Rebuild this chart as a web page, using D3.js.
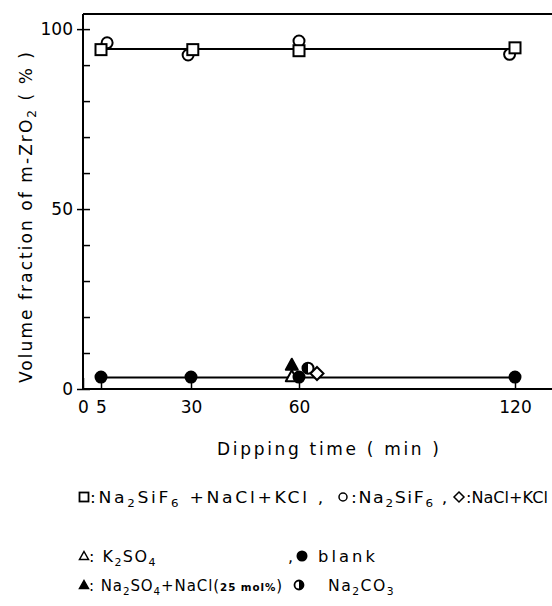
<!DOCTYPE html>
<html>
<head>
<meta charset="utf-8">
<script src="https://cdn.jsdelivr.net/npm/d3@7"></script>
<style>
  body { margin: 0; background: #fff; }
  text { font-family: "DejaVu Sans", sans-serif; fill: #000; }
</style>
</head>
<body>
<svg width="552" height="606"></svg>
<script>
// volume fraction of m-ZrO2 vs dipping time

const xTicks = [0, 5, 30, 60, 120];
const yMajor = [0, 50, 100];
const yMinor = [10, 20, 30, 40, 60, 70, 80, 90];

// Na2SiF6+NaCl+KCl (open squares)
const sqX = [5, 30.5, 60, 120];
const sqY = [94.3, 94.3, 94, 94.8];
// Na2SiF6 (open circles)
const ciX = [6.7, 29.2, 60, 118.5];
const ciY = [96.2, 92.8, 96.7, 93];
// NaCl+KCl (diamond)
const diX = [65];
const diY = [4.3];
// K2SO4 (open triangle)
const trX = [58];
const trY = [3.4];
// Na2SO4+NaCl 25mol% (filled triangle)
const ftX = [58];
const ftY = [6.6];
// blank (filled circles)
const blX = [5, 30, 60, 120];
const blY = [3.3, 3.3, 3.3, 3.3];
// Na2CO3 (half filled circle)
const hcX = [62.5];
const hcY = [5.8];

// the two fitted level lines
const fitHi = [[5, 94.5], [120, 94.5]];
const fitLo = [[5, 3.2], [120, 3.2]];

let svg = d3.select('svg');

let x = d3.scaleLinear().domain([0, 130]).range([83, 551]);
let y = d3.scaleLinear().domain([0, 104.2]).range([389, 14]);

// frame: top line and bottom axis run to the right edge
svg.append('line')
  .attr('x1', x(0)).attr('x2', 552)
  .attr('y1', y(104.2)).attr('y2', y(104.2))
  .attr('stroke', '#000').attr('stroke-width', 2);

svg.append('line')
  .attr('x1', x(0)).attr('x2', 552)
  .attr('y1', y(0)).attr('y2', y(0))
  .attr('stroke', '#000').attr('stroke-width', 2);

svg.append('line')
  .attr('x1', x(0)).attr('x2', x(0))
  .attr('y1', y(0)).attr('y2', y(104.2))
  .attr('stroke', '#000').attr('stroke-width', 2);

// y axis ticks
let yAxis = svg.append('g')
  .attr('transform', 'translate(' + x(0) + ',0)')
  .call(d3.axisLeft(y).tickValues(yMajor).tickSize(6).tickSizeOuter(0).tickPadding(4)
    .tickFormat(d3.format('d')));
yAxis.select('.domain').remove();
yAxis.selectAll('line').attr('stroke-width', 1.5);
yAxis.selectAll('text').style('font-size', '17px').style('font-family', '"DejaVu Sans", sans-serif');

let yAxisIn = svg.append('g')
  .attr('transform', 'translate(' + x(0) + ',0)')
  .call(d3.axisRight(y).tickValues(yMajor.concat(yMinor)).tickSize(7).tickSizeOuter(0).tickFormat(''));
yAxisIn.select('.domain').remove();
yAxisIn.selectAll('line').attr('stroke-width', 1.5);

// x axis ticks point up into the plot
let xAxis = svg.append('g')
  .attr('transform', 'translate(0,' + y(0) + ')')
  .call(d3.axisBottom(x).tickValues(xTicks).tickSize(-11).tickSizeOuter(0).tickPadding(12)
    .tickFormat(d3.format('d')));
xAxis.select('.domain').remove();
xAxis.selectAll('line').attr('stroke-width', 1.5);
xAxis.selectAll('text').style('font-size', '17px').style('font-family', '"DejaVu Sans", sans-serif')
  .attr('dy', '0.71em');

// axis titles
svg.append('text')
  .attr('x', 217).attr('y', 455)
  .attr('textLength', 222).attr('lengthAdjust', 'spacing')
  .style('font-size', '17px')
  .text('Dipping time ( min )');

let yt = svg.append('text')
  .attr('transform', 'translate(32,383) rotate(-90)')
  .attr('textLength', 331).attr('lengthAdjust', 'spacing')
  .style('font-size', '17px');
yt.append('tspan').text('Volume fraction of m-ZrO');
yt.append('tspan').attr('dy', 4).style('font-size', '12px').text('2');
yt.append('tspan').attr('dy', -4).text(' ( % )');

// fitted lines
let line = d3.line().x(d => x(d[0])).y(d => y(d[1]));
[fitHi, fitLo].forEach(f => {
  svg.append('path').datum(f).attr('d', line)
    .attr('fill', 'none').attr('stroke', '#000').attr('stroke-width', 2);
});

const sw = 2;
const zip = (a, b) => a.map((v, i) => [v, b[i]]);

// markers
function circles(xs, ys, fill) {
  svg.append('g').selectAll('circle').data(zip(xs, ys)).join('circle')
    .attr('cx', d => x(d[0])).attr('cy', d => y(d[1])).attr('r', 5.5)
    .attr('fill', fill).attr('stroke', '#000').attr('stroke-width', sw);
}
function squares(xs, ys) {
  svg.append('g').selectAll('rect').data(zip(xs, ys)).join('rect')
    .attr('x', d => x(d[0]) - 5.5).attr('y', d => y(d[1]) - 5.5)
    .attr('width', 11).attr('height', 11)
    .attr('fill', '#fff').attr('stroke', '#000').attr('stroke-width', sw);
}
function triangles(xs, ys, fill) {
  svg.append('g').selectAll('path').data(zip(xs, ys)).join('path')
    .attr('d', d => {
      let cx = x(d[0]), cy = y(d[1]);
      return 'M' + cx + ',' + (cy - 6.5) + 'L' + (cx + 6) + ',' + (cy + 4.5) + 'L' + (cx - 6) + ',' + (cy + 4.5) + 'Z';
    })
    .attr('fill', fill).attr('stroke', '#000').attr('stroke-width', sw).attr('stroke-linejoin', 'round');
}
function diamonds(xs, ys) {
  svg.append('g').selectAll('path').data(zip(xs, ys)).join('path')
    .attr('d', d => {
      let cx = x(d[0]), cy = y(d[1]);
      return 'M' + cx + ',' + (cy - 6.5) + 'L' + (cx + 6.5) + ',' + cy + 'L' + cx + ',' + (cy + 6.5) + 'L' + (cx - 6.5) + ',' + cy + 'Z';
    })
    .attr('fill', '#fff').attr('stroke', '#000').attr('stroke-width', sw);
}
function halfCircles(xs, ys) {
  circles(xs, ys, '#fff');
  svg.append('g').selectAll('path').data(zip(xs, ys)).join('path')
    .attr('d', d => {
      let cx = x(d[0]), cy = y(d[1]);
      return 'M' + cx + ',' + (cy - 5.5) + 'A5.5,5.5 0 0 0 ' + cx + ',' + (cy + 5.5) + 'Z';
    })
    .attr('fill', '#000');
}

circles(ciX, ciY, '#fff');
squares(sqX, sqY);
halfCircles(hcX, hcY);
diamonds(diX, diY);
triangles(ftX, ftY, '#000');
triangles(trX, trY, '#fff');
circles(blX, blY, '#000');

// legend
const legendRows = [
  [
    { sym: 'square', parts: [[':', 0], ['Na', 0], ['2', 1], ['SiF', 0], ['6', 1], [' +NaCl+KCl ,', 0]] },
    { sym: 'circle', parts: [[':', 0], ['Na', 0], ['2', 1], ['SiF', 0], ['6', 1], [' ,', 0]] },
    { sym: 'diamond', parts: [[':', 0], ['NaCl+KCl', 0]] }
  ],
  [
    { sym: 'triangle', parts: [[': K', 0], ['2', 1], ['SO', 0], ['4', 1]] },
    { sym: 'dot', parts: [['blank', 0]] }
  ],
  [
    { sym: 'ftriangle', parts: [[': Na', 0], ['2', 1], ['SO', 0], ['4', 1], ['+NaCl(', 0], ['25 mol%', 2], [')', 0]] },
    { sym: 'half', parts: [['Na', 0], ['2', 1], ['CO', 0], ['3', 1]] }
  ]
];

const rowY = [497, 556, 585];
const itemX = [[84, 343, 459], [84, 302], [84, 299]];
const textX = [[90, 351, 466], [89, 318], [89, 328]];
const textW = [[236, 98, 82], [68, 60], [194, 67]];
const textSize = [[16, 16, 16], [16, 16], [16, 16]];
const textLs = [[2.5, 1.5, 0], [1.5, 3], [1, 1.5]];

function legendSymbol(g, sym, cx, cy) {
  let r = 4.5;
  if (sym === 'square') {
    g.append('rect').attr('x', cx - r).attr('y', cy - r).attr('width', 2 * r).attr('height', 2 * r)
      .attr('fill', '#fff').attr('stroke', '#000').attr('stroke-width', 1.8);
  } else if (sym === 'circle') {
    g.append('circle').attr('cx', cx).attr('cy', cy).attr('r', 4)
      .attr('fill', '#fff').attr('stroke', '#000').attr('stroke-width', 1.5);
  } else if (sym === 'diamond') {
    g.append('path').attr('d', 'M' + cx + ',' + (cy - 5) + 'L' + (cx + 5) + ',' + cy + 'L' + cx + ',' + (cy + 5) + 'L' + (cx - 5) + ',' + cy + 'Z')
      .attr('fill', '#fff').attr('stroke', '#000').attr('stroke-width', 1.5);
  } else if (sym === 'triangle' || sym === 'ftriangle') {
    g.append('path').attr('d', 'M' + cx + ',' + (cy - 4.5) + 'L' + (cx + 4.5) + ',' + (cy + 3.5) + 'L' + (cx - 4.5) + ',' + (cy + 3.5) + 'Z')
      .attr('fill', sym === 'ftriangle' ? '#000' : '#fff').attr('stroke', '#000').attr('stroke-width', 1.5);
  } else if (sym === 'dot') {
    g.append('circle').attr('cx', cx).attr('cy', cy).attr('r', 5.5).attr('fill', '#000');
  } else if (sym === 'half') {
    g.append('circle').attr('cx', cx).attr('cy', cy).attr('r', 4.5)
      .attr('fill', '#fff').attr('stroke', '#000').attr('stroke-width', 1.8);
    g.append('path').attr('d', 'M' + cx + ',' + (cy - 4.5) + 'A4.5,4.5 0 0 1 ' + cx + ',' + (cy + 4.5) + 'Z')
      .attr('fill', '#000');
  }
}

let legend = svg.append('g');
legendRows.forEach((row, ri) => {
  row.forEach((item, ii) => {
    let cx = itemX[ri][ii], cy = rowY[ri];
    legendSymbol(legend, item.sym, cx, cy);
    let t = legend.append('text')
      .attr('x', textX[ri][ii])
      .attr('y', cy + 6)
      .attr('textLength', textW[ri][ii]).attr('lengthAdjust', 'spacingAndGlyphs')
      .style('font-size', textSize[ri][ii] + 'px')
      .style('letter-spacing', textLs[ri][ii] + 'px');
    let shift = 0;
    item.parts.forEach(p => {
      let s = t.append('tspan').text(p[0]);
      let want = p[1] === 1 ? 4 : 0;
      if (want !== shift) s.attr('dy', want - shift);
      shift = want;
      if (p[1] === 1) s.style('font-size', '11px');
      if (p[1] === 2) s.style('font-size', '11px').style('font-weight', 'bold');
    });
  });
});

// comma before blank
legend.append('text').attr('x', 288).attr('y', rowY[1] + 6).style('font-size', '16px').text(',');
</script>
</body>
</html>
